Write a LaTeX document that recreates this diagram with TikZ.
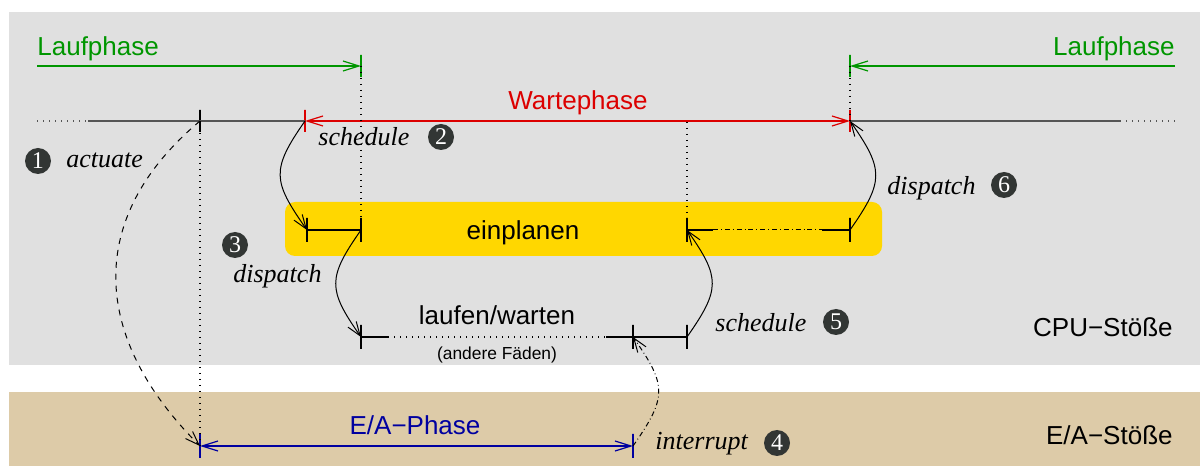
\documentclass[tikz,border=0pt]{standalone}
\usepackage{fontspec}
\setmainfont{Liberation Sans}
\newfontfamily\tnr{Liberation Serif}
\usetikzlibrary{arrows.meta}
\definecolor{bggray}{RGB}{224,224,224}
\definecolor{bgtan}{RGB}{221,203,168}
\definecolor{boxyellow}{RGB}{255,215,0}
\definecolor{lgreen}{RGB}{0,150,0}
\definecolor{lred}{RGB}{220,0,0}
\definecolor{lblue}{RGB}{0,0,160}
\definecolor{tline}{RGB}{85,85,85}
\definecolor{badgec}{RGB}{50,54,52}
\tikzset{
  tip/.style={-{Straight Barb[length=8pt,width=5pt]}},
  tips/.style={{Straight Barb[length=8pt,width=5pt]}-{Straight Barb[length=8pt,width=5pt]}},
  tick/.style={draw, line width=0.6pt, inner sep=0pt, outer sep=0pt, minimum width=0pt, minimum height=11pt},
  ytick/.style={tick, minimum height=12pt},
  dots/.style={dash pattern=on 0.6pt off 2.4pt, line width=0.6pt},
  lbl/.style={font=\fontsize{13}{15}\selectfont, inner sep=0pt},
  smalllbl/.style={font=\fontsize{8.7}{10}\selectfont, inner sep=0pt},
  itl/.style={font=\tnr\itshape\fontsize{13}{15}\selectfont, inner sep=0pt},
  badge/.style={circle, fill=badgec, text=white, inner sep=0pt, minimum size=13pt, font=\tnr\fontsize{12}{12}\selectfont},
  curve/.style={line width=0.5pt, -{Straight Barb[length=7pt,width=5pt]}},
  dashdotline/.style={dash pattern=on 2.5pt off 1.5pt on 0.4pt off 1.5pt},
}
\begin{document}
\begin{tikzpicture}[x=0.5pt,y=0.5pt]
\useasboundingbox (0,0) rectangle (1200,466);
% backgrounds
\fill[bggray] (9,101) rectangle (1200,454);
\fill[bgtan] (9,0) rectangle (1200,74);
\fill[boxyellow, rounded corners=5pt] (285,210) rectangle (882,264);

% green Laufphase arrows
\coordinate (g1s) at (37,400);
\node[tick, draw=lgreen] (g1e) at (361,400) {};
\draw[tip, lgreen, line width=0.6pt] (g1s) -- (g1e.center);
\node[lbl, text=lgreen, anchor=base west] (lp1) at (37,410) {Laufphase};
\coordinate (g2s) at (1175,400);
\node[tick, draw=lgreen] (g2e) at (850,400) {};
\draw[tip, lgreen, line width=0.6pt] (g2s) -- (g2e.center);
\node[lbl, text=lgreen, anchor=base east] (lp2) at (1175,410) {Laufphase};

% main timeline
\coordinate (tA) at (37,345);
\coordinate (tB) at (88,345);
\coordinate (tC) at (1120,345);
\coordinate (tD) at (1175,345);
\node[tick] (k200) at (200,345) {};
\node[tick, draw=lred] (k305) at (305,345) {};
\node[tick, draw=lred] (k850) at (850,345) {};
\draw[dots, tline] (tA) -- (tB);
\draw[tline, line width=0.8pt] (tB) -- (k305.center);
\draw[tline, line width=0.8pt] (k850.center) -- (tC);
\draw[dots, tline] (tC) -- (tD);
\draw[tips, lred, line width=0.6pt] (k305.center) -- (k850.center);
\node[lbl, text=lred, anchor=base] (wp) at (578,356) {Wartephase};

% einplanen box contents
\node[ytick] (y307) at (307,236) {};
\node[ytick] (y361) at (361,236) {};
\node[ytick] (y687) at (687,236) {};
\node[ytick] (y850) at (850,236) {};
\coordinate (yA) at (713,236);
\coordinate (yB) at (822,236);
\coordinate (c687) at (687,344);
\draw[line width=0.6pt] (y307.center) -- (y361.center);
\draw[line width=0.6pt] (y687.center) -- (yA);
\draw[line width=0.5pt, dashdotline] (yA) -- (yB);
\draw[line width=0.6pt] (yB) -- (y850.center);
\node[lbl, anchor=base] (ep) at (523,226) {einplanen};

% laufen/warten
\node[ytick] (w361) at (361,129) {};
\node[ytick] (w633) at (633,129) {};
\node[ytick] (w687) at (687,129) {};
\coordinate (wA) at (388,129);
\coordinate (wB) at (606,129);
\draw[line width=0.6pt] (w361.center) -- (wA);
\draw[dots] (wA) -- (wB);
\draw[line width=0.6pt] (wB) -- (w687.center);
\node[lbl, anchor=base] (lw) at (497,141) {laufen/warten};
\node[smalllbl, anchor=base] (af) at (497,106) {(andere F\"aden)};

% E/A phase
\node[ytick, draw=lblue] (e200) at (200,20) {};
\node[ytick, draw=lblue] (e633) at (633,20) {};
\draw[tips, lblue, line width=0.6pt] (e200.center) -- (e633.center);
\node[lbl, text=lblue, anchor=base] (eap) at (415,31) {E/A−Phase};

% dotted verticals
\draw[dots] (g1e.center) -- (y361.center);
\draw[dots] (g2e.center) -- (k850.center);
\draw[dots] (c687) -- (y687.center);
\draw[dots] (k200.center) -- (e200.center);

% curves
\draw[curve, dashed] (k200.center) to[out=220,in=135,looseness=1.2] (e200.center);
\draw[curve] (k305.center) to[out=235,in=125,looseness=1.4] (y307.center);
\draw[curve] (y361.center) to[out=235,in=125,looseness=1.4] (w361.center);
\draw[curve] (w687.center) to[out=55,in=-55,looseness=1.4] (y687.center);
\draw[curve] (y850.center) to[out=55,in=-55,looseness=1.4] (k850.center);
\draw[curve, dashdotline] (e633.center) to[out=55,in=-55,looseness=1.4] (w633.center);

% labels
\node[badge] (n1) at (38,305) {1};
\node[itl, anchor=base west] (a1) at (66,298) {actuate};
\node[itl, anchor=base west] (s2) at (318,320) {schedule};
\node[badge] (n2) at (441,329) {2};
\node[badge] (n3) at (235,221) {3};
\node[itl, anchor=base west] (d3) at (233,183) {dispatch};
\node[itl, anchor=base west] (s5) at (715,134) {schedule};
\node[badge] (n5) at (836,144) {5};
\node[itl, anchor=base west] (d6) at (887,271) {dispatch};
\node[badge] (n6) at (1004,281) {6};
\node[itl, anchor=base west] (i4) at (655,16) {interrupt};
\node[badge] (n4) at (777,23) {4};
\node[lbl, anchor=base east] (cpu) at (1173,129) {CPU−Stöße};
\node[lbl, anchor=base east] (eas) at (1173,21) {E/A−Stöße};
\end{tikzpicture}
\end{document}
